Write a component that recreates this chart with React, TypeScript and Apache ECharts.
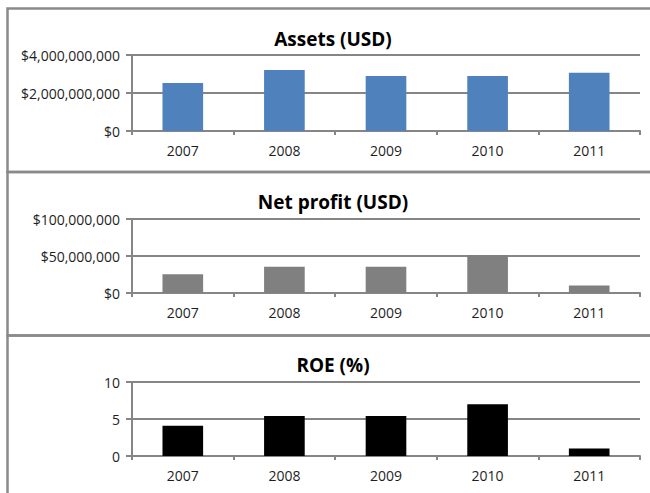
import React, { useEffect, useRef } from "react";
import * as echarts from "echarts";

const years = ["2007", "2008", "2009", "2010", "2011"];
const assets = [2520000000, 3210000000, 2890000000, 2890000000, 3060000000];
const netProfit = [25500000, 35400000, 35400000, 51400000, 10100000];
const roe = [4.1, 5.4, 5.4, 7.0, 1.0];
const titles = ["Assets (USD)", "Net profit (USD)", "ROE (%)"];

const FONT = "'Open Sans', 'Liberation Sans', sans-serif";
const GRID_COLOR = "#868686";
const LABEL_COLOR = "#1e1e1e";

const money = (v: number) => "$" + Math.round(v).toLocaleString("en-US");

export default function App() {
  const ref = useRef<HTMLDivElement>(null);
  useEffect(() => {
    if (!ref.current) return;
    const chart = echarts.init(ref.current, null, { renderer: "svg" });
    const grids = [
      { left: 132, right: 10, top: 55, height: 76 },
      { left: 132, right: 10, top: 219, height: 74 },
      { left: 132, right: 10, top: 382, height: 74 },
    ];
    const yCfg = [
      { max: 4000000000, interval: 2000000000, fmt: money },
      { max: 100000000, interval: 50000000, fmt: money },
      { max: 10, interval: 5, fmt: (v: number) => String(v) },
    ];
    const data = [assets, netProfit, roe];
    const colors = ["#4F81BD", "#808080", "#000000"];
    const titleY = [39, 202, 365];
    const panelTops = [8.5, 172, 335.5];
    const panelBottoms = [172, 335.5, 520];

    chart.setOption({
      animation: false,
      backgroundColor: "#ffffff",
      textStyle: { fontFamily: FONT },
      grid: grids,
      xAxis: grids.map((_, i) => ({
        type: "category",
        gridIndex: i,
        data: years,
        axisLine: { show: true, lineStyle: { color: GRID_COLOR, width: 2 } },
        axisTick: { show: true, length: 4, alignWithLabel: false, lineStyle: { color: GRID_COLOR, width: 2 } },
        axisLabel: { color: LABEL_COLOR, fontSize: 14, margin: 12, fontFamily: FONT },
        splitLine: { show: false },
      })),
      yAxis: grids.map((_, i) => ({
        type: "value",
        gridIndex: i,
        min: 0,
        max: yCfg[i].max,
        interval: yCfg[i].interval,
        axisLine: { show: true, lineStyle: { color: GRID_COLOR, width: 2 } },
        axisTick: { show: true, length: 6, lineStyle: { color: GRID_COLOR, width: 2 } },
        axisLabel: { color: LABEL_COLOR, fontSize: 14, margin: 12, fontFamily: FONT, formatter: yCfg[i].fmt },
        splitLine: { show: true, lineStyle: { color: GRID_COLOR, width: 2 } },
      })),
      series: data.map((d, i) => ({
        type: "bar",
        xAxisIndex: i,
        yAxisIndex: i,
        data: d,
        barCategoryGap: "60%",
        itemStyle: { color: colors[i] },
        z: 1,
      })),
      graphic: [
        ...panelTops.map((t, i) => ({
          type: "rect",
          silent: true,
          z: -1,
          shape: { x: 7.5, y: t, width: 700, height: panelBottoms[i] - t },
          style: { fill: "none", stroke: "#8a8a8a", lineWidth: 2.5 },
        })),
        ...titles.map((t, i) => ({
          type: "text",
          x: 333,
          y: titleY[i],
          style: {
            text: t,
            fontFamily: FONT,
            fontWeight: "bold",
            fontSize: 19,
            fill: "#000000",
            align: "center",
            verticalAlign: "middle",
          },
        })),
      ],
    });
    return () => chart.dispose();
  }, []);
  return (
    <div
      ref={ref}
      style={{ position: "fixed", left: 0, top: 0, width: 650, height: 493, background: "#fff" }}
    />
  );
}
